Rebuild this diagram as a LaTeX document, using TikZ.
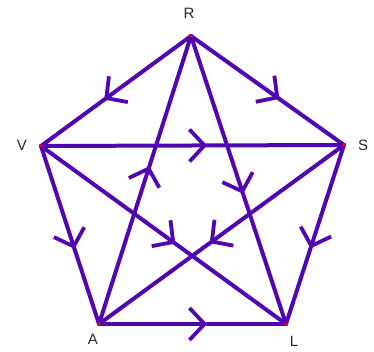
\documentclass[tikz,border=0pt]{standalone}
\usepackage{fontspec}
\setmainfont{Liberation Sans}
\usetikzlibrary{decorations.markings}
\definecolor{edgecol}{RGB}{80,6,176}
\definecolor{labcol}{RGB}{40,40,40}
\tikzset{
  edge/.style={draw=edgecol, line width=4pt, line cap=round,
    postaction={decorate, decoration={markings,
      mark=at position 0.5 with {\pgftransformxshift{12pt}
        \draw[edgecol, line width=3.8pt, line cap=butt] (-15pt,16pt) -- (0pt,0pt) -- (-15pt,-16pt);}}}},
  lab/.style={text=labcol, font=\fontsize{15}{15}\selectfont, inner sep=0pt},
  vdot/.style={fill=red, draw=none}
}
\begin{document}
\begin{tikzpicture}[x=1pt,y=-1pt]
\useasboundingbox (0,0) rectangle (374,352);
\coordinate (R) at (191,36);
\coordinate (V) at (41,146);
\coordinate (S) at (344,145);
\coordinate (A) at (99,324);
\coordinate (L) at (286,324);
\path[edge] (R) -- (V);
\path[edge] (R) -- (S);
\path[edge] (V) -- (S);
\path[edge] (V) -- (A);
\path[edge] (S) -- (L);
\path[edge] (A) -- (L);
\path[edge] (A) -- (R);
\path[edge] (R) -- (L);
\path[edge] (V) -- (L);
\path[edge] (S) -- (A);
\foreach \p in {R,V,S,A,L} \fill[vdot] (\p) circle (1.8);
\node[lab] (lR) at (189,13) {R};
\node[lab] (lV) at (22,145) {V};
\node[lab] (lS) at (363,145) {S};
\node[lab] (lA) at (93,339) {A};
\node[lab] (lL) at (294,341) {L};
\end{tikzpicture}
\end{document}
